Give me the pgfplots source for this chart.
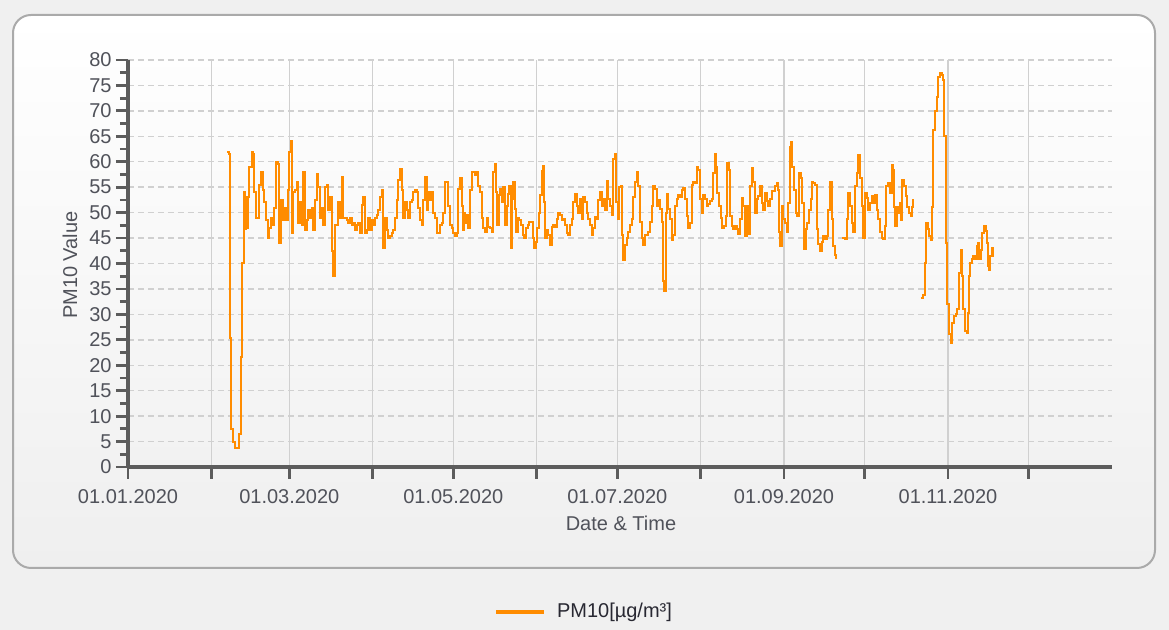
\documentclass[border=0pt]{standalone}
\usepackage{pgfplots}
\pgfplotsset{compat=1.18}
\usepackage{pgfplotstable}
\usepackage{fontspec}
\setmainfont{Liberation Sans}
\definecolor{bgc}{RGB}{240,240,240}
\definecolor{panelb}{RGB}{170,170,170}
\definecolor{gridc}{RGB}{208,208,208}
\definecolor{axc}{RGB}{92,92,92}
\definecolor{txt}{RGB}{80,82,90}
\definecolor{pm}{RGB}{255,140,0}

\pgfplotstableread{
x y
36.94 62
37.68 61.6
37.93 25.3
38.30 7.5
39.05 4.9
39.79 3.7
41.28 6.5
42.02 21.6
42.50 40
43.26 54
43.51 46.8
43.88 53
44.13 47
44.50 53
45.12 59
45.99 62
46.61 61.5
46.98 54
47.60 49
48.47 49
48.84 55.5
49.46 58
50.08 54.5
50.58 52
51.20 48.5
51.94 45
52.56 47
53.18 49
53.80 47.5
54.29 51
55.04 60
55.91 59.5
56.28 44
56.90 52.5
57.52 48.5
58.14 51
58.76 48.5
59.38 54.5
60.00 62
60.49 64
60.87 46
61.48 54
62.23 54.5
62.72 56
63.34 48
63.96 52
64.58 47.5
65.20 58
65.82 46.5
66.44 48.5
67.06 50.5
67.68 49
68.30 51
68.92 46.5
69.54 52.5
70.16 57.5
70.78 55
71.40 49
72.02 51
72.64 47.5
73.26 55
73.88 55.5
74.50 50.5
75.12 53
75.74 42.5
76.36 37.5
76.98 47.5
77.60 47.5
78.22 52
78.84 49
79.46 57
80.08 49
80.70 49
81.32 48.5
81.94 48
82.56 49
83.18 47.5
83.80 48
84.42 46.5
85.04 47.5
85.66 48
86.28 46
86.90 51.5
87.52 53
88.14 46
88.76 46.5
89.38 49
90.00 46.5
90.62 48.5
91.24 47.5
91.86 49
92.48 49.5
93.10 50.5
93.72 53
94.34 54.5
94.96 43
95.58 49
96.20 46.5
96.82 45
97.44 45.5
98.06 46
98.68 46.5
99.30 49
99.92 52.5
100.54 56.5
101.16 58.5
101.78 54.5
102.40 49
103.02 52
103.64 50.5
104.26 49
104.88 52
105.50 52.5
106.11 54
106.73 54.5
107.35 54
107.97 51
108.59 48.5
109.21 47.5
109.83 52.5
110.45 57
111.07 50.5
111.69 54
112.31 52.5
112.93 54
113.55 50
114.17 49
114.79 46
115.41 46
116.03 47.5
116.65 48
117.27 50
117.89 56
118.51 56
119.13 51.4
119.75 47.5
120.37 47
120.99 46
121.61 45.5
122.23 46
122.85 54.7
123.47 56.8
124.09 51.4
124.46 46.5
124.96 50
125.45 48
125.95 49.5
126.57 47
127.19 54.4
127.81 58
128.43 58
129.05 57.3
129.67 58
130.29 55.3
130.91 54
131.53 49
132.14 47
132.76 46.2
133.38 49
134.00 47.2
134.62 47
135.24 46.2
135.86 58
136.48 59.5
136.86 54
137.35 47.5
137.85 53.4
138.34 54.7
138.96 52
139.58 55
140.20 47.5
140.82 51.4
141.44 53.7
141.81 55.3
142.31 43
142.93 52.7
143.30 56
143.80 50.8
144.29 46.2
144.91 49
145.53 48.5
146.15 47.5
146.77 45.6
147.39 45
148.01 47
148.63 47.5
149.25 48.2
149.87 48.2
150.49 45
151.11 43
151.73 44.3
152.23 47
152.85 50
153.34 53.4
153.84 58.2
154.21 59.2
154.71 52
155.20 45
155.70 46.6
156.32 45.6
156.94 43.6
157.56 47.2
158.18 47.5
158.80 47.2
159.42 48.8
160.04 50
160.66 49.5
161.28 48.5
161.90 48.8
162.52 47.5
163.13 45.9
163.75 45.6
164.37 47.5
164.99 48.8
165.61 52
166.23 53.7
166.85 51.4
167.47 50
168.09 52.7
168.71 48.8
169.33 53
169.95 52
170.57 50
171.19 48.8
171.81 47.5
172.43 45.6
173.05 47
173.67 49.2
174.29 48.8
174.91 52.4
175.53 54
176.15 51.4
176.77 52.7
177.39 50.5
178.01 56.3
178.63 52.7
179.25 51.4
179.87 49.5
180.49 60.5
181.11 61.5
181.48 52
182.10 48.8
182.72 55
183.34 55.3
183.71 45.6
184.21 40.7
184.83 43.6
185.45 45
186.07 46.2
186.69 47.5
187.31 48.8
187.93 53
188.55 56
189.17 58
189.79 55.3
190.41 48.2
191.03 45
191.65 43.6
192.27 45.6
192.89 45.6
193.51 46.2
194.13 48.2
194.75 51.4
195.37 55.3
195.99 54.7
196.61 51.4
197.23 52.4
197.85 50.8
198.47 48.2
199.09 36.5
199.46 34.5
199.95 50
200.32 53.7
200.94 50.8
201.56 48.8
202.18 44.6
202.80 45.6
203.42 51.4
204.04 52.7
204.66 53.4
205.28 53
205.90 54.5
206.52 54.8
207.14 52.6
207.76 49.3
208.38 47
209.00 48
209.62 55.5
210.24 56
210.86 55.8
211.48 59
212.10 58.4
212.72 52.6
213.34 50
213.96 53.5
214.58 52.6
215.20 51.3
215.82 51.6
216.44 52.3
217.06 52.6
217.68 57.7
218.30 61.6
218.67 59
219.16 53.9
219.78 51.3
220.40 49
221.02 47
221.64 47.4
222.26 49.3
222.88 59.7
223.50 58.4
223.87 49.3
224.49 47.4
225.11 46.7
225.73 47.4
226.35 46.7
226.97 45.8
227.59 48.7
228.21 52.9
228.83 51.3
229.45 45.5
230.07 51.3
230.69 45.8
231.31 55.2
231.93 58.7
232.55 56.1
233.17 50
233.79 52.6
234.41 53.2
235.03 55.2
235.65 51.9
236.27 50.6
236.89 53.9
237.51 52.3
238.13 51.3
238.75 52.6
239.37 54.2
239.99 54.2
240.61 55.2
241.23 55.8
241.85 54.5
242.10 46.1
242.47 43.5
243.09 51.3
243.71 48.7
244.33 48
244.95 46.1
245.57 51.9
246.19 62.9
246.56 63.9
247.06 59
247.68 54.5
248.30 50
248.92 49.3
249.54 57.7
250.16 56.8
250.77 51.9
251.39 42.9
252.01 46.7
252.63 48
253.25 50.6
253.87 52.6
254.25 56.1
254.87 55.8
255.49 55.5
256.11 46.7
256.72 43.8
257.34 42.5
257.96 44.2
258.58 45.5
259.20 44.8
259.82 45.5
260.44 50.6
261.06 56.1
261.68 48.7
262.30 43.5
262.92 41.6
263.29 41
263.60 41
263.70 nan
265.65 45.1
266.64 44.8
267.26 48.7
267.88 53.9
268.50 51.3
269.12 48
269.74 46.1
270.36 55.2
270.98 57.7
271.60 61.3
272.22 56.8
272.84 51.3
273.46 45.1
274.08 53.9
274.70 52.9
275.32 50.6
275.94 51.9
276.56 53.2
277.18 51.9
277.80 53.5
278.42 50.6
279.04 48.7
279.66 46.1
280.28 45.1
280.90 44.8
281.52 47.3
281.89 55.2
282.76 55.8
283.38 53.9
284.00 59.4
284.62 58.4
284.99 51.2
285.36 47.3
285.86 51.2
286.48 49.9
287.10 51.9
287.47 48.6
287.97 56.5
288.59 55.2
289.20 53.2
289.82 51.2
290.44 49.9
291.06 49.3
291.68 51.2
292.06 52.5
292.40 52.5
292.50 nan
294.78 33.3
295.77 33.9
296.39 40.1
296.77 48
297.39 46.7
297.88 45.4
298.50 44.7
298.87 51.2
299.49 66.3
300.11 69.9
300.73 72.8
301.35 76.7
301.97 77.4
302.59 77.1
303.21 76.1
303.58 65
304.08 44.1
304.70 32
305.32 26.1
305.94 24.4
306.56 28.4
307.18 29.7
307.80 30
308.42 31
309.04 38.2
309.66 42.7
310.15 37.5
310.65 31
311.27 26.7
311.89 26.4
312.26 30.3
312.63 37.5
313.13 40.1
313.75 40.8
314.37 41.4
314.99 40.8
315.61 43.4
316.23 44.1
316.60 40.8
317.22 42.7
317.72 46
318.34 47.3
318.96 46.3
319.33 44.1
319.70 39.5
320.20 38.8
320.57 41.4
321.19 43.1
321.56 41.4
321.90 41.4
}\pmdata

\begin{document}
\begin{tikzpicture}
\fill[bgc] (0,0) rectangle (584.5pt,315pt);
\shade[top color=white, bottom color={rgb,255:red,239;green,239;blue,239}, rounded corners=9pt]
  (6.5pt,31pt) rectangle (577.5pt,307.5pt);
\draw[panelb, line width=1pt, rounded corners=9pt] (6.5pt,31pt) rectangle (577.5pt,307.5pt);
\begin{axis}[
  at={(64pt,81.5pt)}, anchor=south west,
  scale only axis, width=492pt, height=203.5pt,
  xmin=0, xmax=366, ymin=0, ymax=80,
  axis lines*=left,
  axis line style={-, axc, line width=1.6pt},
  every tick/.style={axc, line width=1.4pt},
  tick align=outside,
  major tick length=6pt, minor tick length=4pt,
  xtick={0,31,60,91,121,152,182,213,244,274,305,335},
  xticklabels={01.01.2020,,01.03.2020,,01.05.2020,,01.07.2020,,01.09.2020,,01.11.2020,},
  ytick distance=5, minor y tick num=1,
  xmajorgrids, ymajorgrids,
  x grid style={gridc, line width=0.8pt, solid},
  y grid style={gridc, line width=0.7pt, dash pattern=on 3pt off 2pt},
  /pgf/number format/assume math mode=true,
  ticklabel style={font=\fontsize{10}{12}\selectfont, text=txt},
  yticklabel style={inner xsep=2pt},
  xticklabel style={yshift=-1.5pt},
  label style={font=\fontsize{10}{12}\selectfont, text=txt},
  xlabel={Date \& Time},
  ylabel={PM10 Value},
  xlabel style={at={(axis description cs:0.501,-0.1376)}, anchor=center},
  ylabel style={at={(axis description cs:-0.059,0.496)}, anchor=center},
  unbounded coords=jump,
  legend style={at={(axis description cs:0.4644,-0.356)}, anchor=center,
    draw=none, fill=none, font=\fontsize{10}{12}\selectfont,
    text={rgb,255:red,40;green,40;blue,50}},
  legend image code/.code={\draw[pm, line width=2pt] (0pt,0pt) -- (24pt,0pt); \path (28pt,0pt);},
  clip=false,
]
\addplot[const plot, pm, line width=1pt, line join=miter] table[x=x, y=y] {\pmdata};
\addlegendentry{PM10[µg/m³]}
\end{axis}
\pgfresetboundingbox
\useasboundingbox (0,0) rectangle (584.5pt,315pt);
\end{tikzpicture}
\end{document}
